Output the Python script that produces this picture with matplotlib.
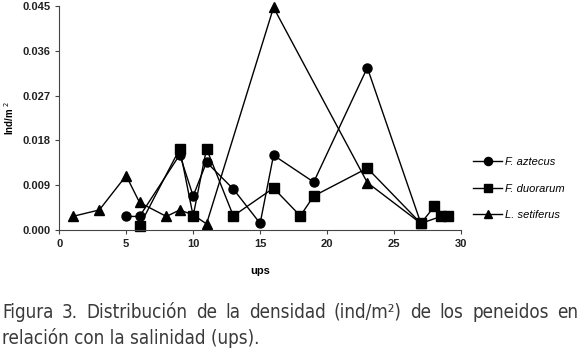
import matplotlib
matplotlib.use('Agg')
import matplotlib.pyplot as plt

# salinity (ups) and density (ind/m2) per species
aztecus_x = [5, 6, 9, 10, 11, 13, 15, 16, 19, 23, 27, 28.5, 29]
aztecus_y = [0.0027, 0.0027, 0.0151, 0.0068, 0.0136, 0.0082, 0.0013,
             0.0150, 0.0096, 0.0326, 0.0013, 0.0027, 0.0027]

duorarum_x = [6, 9, 10, 11, 13, 16, 18, 19, 23, 27, 28, 28.5, 29]
duorarum_y = [0.0008, 0.0163, 0.0028, 0.0163, 0.0028, 0.0084, 0.0028,
              0.0068, 0.0124, 0.0013, 0.0047, 0.0027, 0.0027]

setiferus_x = [1, 3, 5, 6, 8, 9, 10, 11, 16, 23, 27]
setiferus_y = [0.0027, 0.0040, 0.0109, 0.0055, 0.0027, 0.0040, 0.0030,
               0.0012, 0.0447, 0.0095, 0.0013]

labels = ['F. aztecus', 'F. duorarum', 'L. setiferus']
xticks = [0, 5, 10, 15, 20, 25, 30]
yticks = [0.000, 0.009, 0.018, 0.027, 0.036, 0.045]

caption1 = 'Figura 3. Distribución de la densidad (ind/m²) de los peneidos en'
caption2 = 'relación con la salinidad (ups).'


def justified_line(fig, text, x0, x1, y, **kw):
    # spread the words of one line evenly between x0 and x1 (figure px)
    words = text.split(' ')
    renderer = fig.canvas.get_renderer()
    arts = [fig.text(0, y, w, transform=None, va='center', **kw)
            for w in words]
    widths = [a.get_window_extent(renderer).width for a in arts]
    gap = (x1 - x0 - sum(widths)) / (len(words) - 1)
    x = x0
    for a, w in zip(arts, widths):
        a.set_x(x)
        x += w + gap


plt.rcParams['font.family'] = ['Liberation Sans', 'DejaVu Sans']

fig = plt.figure(figsize=(5.8, 3.52), dpi=100)
ax = fig.add_axes([0.102, 0.347, 0.693, 0.636])

ax.plot(aztecus_x, aztecus_y, color='black', lw=1, marker='o', ms=6.5,
        label=labels[0], clip_on=False)
ax.plot(duorarum_x, duorarum_y, color='black', lw=1, marker='s', ms=6.5,
        label=labels[1], clip_on=False)
ax.plot(setiferus_x, setiferus_y, color='black', lw=1, marker='^', ms=7,
        label=labels[2], clip_on=False)

ax.set_xlim(0, 30)
ax.set_ylim(0, 0.045)
ax.set_xticks(xticks)
ax.set_yticks(yticks)
ax.set_yticklabels(['%.3f' % v for v in yticks])
ax.spines['top'].set_visible(False)
ax.spines['right'].set_visible(False)
ax.spines['left'].set_color('#444444')
ax.spines['bottom'].set_color('#444444')
ax.tick_params(direction='out', length=3, width=0.8, colors='#444444',
               labelcolor='#222222', labelsize=8)
for t in ax.get_xticklabels() + ax.get_yticklabels():
    t.set_fontweight('bold')

ax.set_xlabel('ups', fontsize=8, fontweight='bold', labelpad=12)
ax.set_ylabel('Ind/m $^{2}$', fontsize=7, fontweight='bold', labelpad=4)

leg = ax.legend(loc='upper left', bbox_to_anchor=(0.808, 0.567),
                bbox_transform=fig.transFigure, frameon=False,
                fontsize=8, handlelength=2.6, labelspacing=1.5,
                handletextpad=0.3, markerscale=0.9, borderaxespad=0)
for t in leg.get_texts():
    t.set_fontstyle('italic')

cap_kw = dict(fontsize=13.5, color='#3a3a3a', family=['DejaVu Sans'],
              fontstretch='condensed')
justified_line(fig, caption1, 2, 578, 40, **cap_kw)
fig.text(2, 14, caption2, transform=None, va='center', **cap_kw)

fig.savefig('out.png', dpi=100)
